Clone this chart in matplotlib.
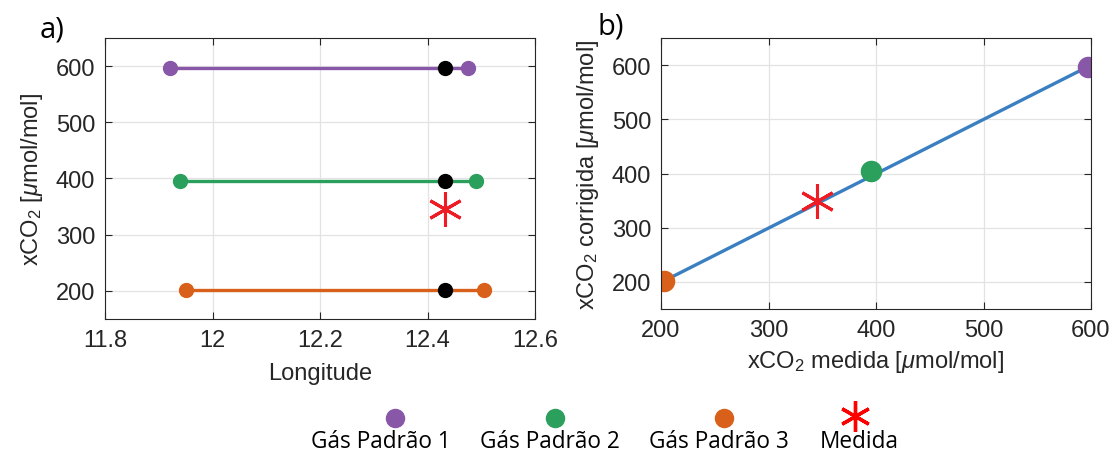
import matplotlib
matplotlib.use("Agg")
import matplotlib.pyplot as plt

plt.rcParams['font.family'] = ['Liberation Sans', 'DejaVu Sans']
plt.rcParams['mathtext.fontset'] = 'custom'
plt.rcParams['mathtext.rm'] = 'Liberation Sans'
plt.rcParams['mathtext.it'] = 'Liberation Sans:italic'

# panel a) : longitude span of each standard gas at its xCO2 level
gas_names = ['Gás Padrão 1', 'Gás Padrão 2', 'Gás Padrão 3']
gas_colors = ['#8857a8', '#2ba05c', '#d9601a']
lon_start = [11.92, 11.94, 11.95]
lon_end = [12.475, 12.49, 12.505]
gas_level = [596, 395, 202]
lon_meas = 12.432
meas_value = 345

# panel b) : calibration
gas_measured = [597, 395, 203]
gas_corrected = [597, 404, 202]
meas_measured = 345
meas_corrected = 349

star_color = '#ee1c25'
line_blue = '#3a7fc1'
txt = '#262626'

fig = plt.figure(figsize=(11.13, 4.6), dpi=100)
W, H = 1113, 460
ax1 = fig.add_axes([105/W, 1-320/H, (535-105)/W, (320-39)/H])
ax2 = fig.add_axes([661/W, 1-310/H, (1091-661)/W, (310-39)/H])

for ax in (ax1, ax2):
    ax.grid(True, color='#e3e3e3', linewidth=0.9)
    ax.set_axisbelow(True)
    ax.tick_params(direction='in', top=True, right=True, labelsize=17, length=5,
                   colors=txt, pad=7)
    for s in ax.spines.values():
        s.set_color(txt)
        s.set_linewidth(0.8)

for i in range(3):
    ax1.plot([lon_start[i], lon_end[i]], [gas_level[i], gas_level[i]], '-o',
             color=gas_colors[i], lw=2.4, ms=10)
    ax1.plot(lon_meas, gas_level[i], 'o', color='black', ms=10)
ax1.plot(lon_meas, meas_value, marker=(6, 2, 0), color=star_color, ms=25, mew=2.2,
         ls='none')
ax1.set_xlim(11.8, 12.6)
ax1.set_ylim(150, 650)
ax1.set_xticks([11.8, 12.0, 12.2, 12.4, 12.6])
ax1.set_xticklabels(['11.8', '12', '12.2', '12.4', '12.6'])
ax1.set_yticks([200, 300, 400, 500, 600])
ax1.set_xlabel('Longitude', fontsize=17, color=txt, labelpad=8)
ax1.set_ylabel(r'xCO$_2$ [$\mathit{\mu}$mol/mol]', fontsize=17, color=txt, labelpad=8)

ax2.plot([gas_measured[2], gas_measured[0]], [gas_corrected[2], gas_corrected[0]],
         '-', color=line_blue, lw=2.4)
for i in range(3):
    ax2.plot(gas_measured[i], gas_corrected[i], 'o', color=gas_colors[i], ms=14.5)
ax2.plot(meas_measured, meas_corrected, marker=(6, 2, 0), color=star_color, ms=25,
         mew=2.2, ls='none')
ax2.set_xlim(200, 600)
ax2.set_ylim(150, 650)
ax2.set_xticks([200, 300, 400, 500, 600])
ax2.set_yticks([200, 300, 400, 500, 600])
ax2.set_xlabel(r'xCO$_2$ medida [$\mathit{\mu}$mol/mol]', fontsize=17, color=txt,
               labelpad=5)
ax2.set_ylabel(r'xCO$_2$ corrigida [$\mathit{\mu}$mol/mol]', fontsize=17, color=txt,
               labelpad=8)

fig.text(40/W, 1-30/H, 'a)', fontsize=21, family=['Open Sans', 'DejaVu Sans'], va='center')
fig.text(597/W, 1-27/H, 'b)', fontsize=21, family=['Open Sans', 'DejaVu Sans'], va='center')

# legend drawn below both panels: marker above its label
leg = fig.add_axes([0, 0, 1, 1], facecolor='none')
leg.set_xlim(0, W)
leg.set_ylim(H, 0)
leg.axis('off')
leg_x = [395, 555, 724, 855]
label_x = [381, 550, 719, 859]
leg_labels = gas_names + ['Medida']
for i in range(3):
    leg.plot(leg_x[i], 419, 'o', color=gas_colors[i], ms=13)
leg.plot(leg_x[3], 417, marker=(6, 2, 0), color='red', ms=22, mew=2.4, ls='none')
for i in range(4):
    leg.text(label_x[i], 442, leg_labels[i], fontsize=16.3, ha='center', va='center',
             family=['Open Sans', 'DejaVu Sans'])

fig.savefig('out.png', dpi=100)
